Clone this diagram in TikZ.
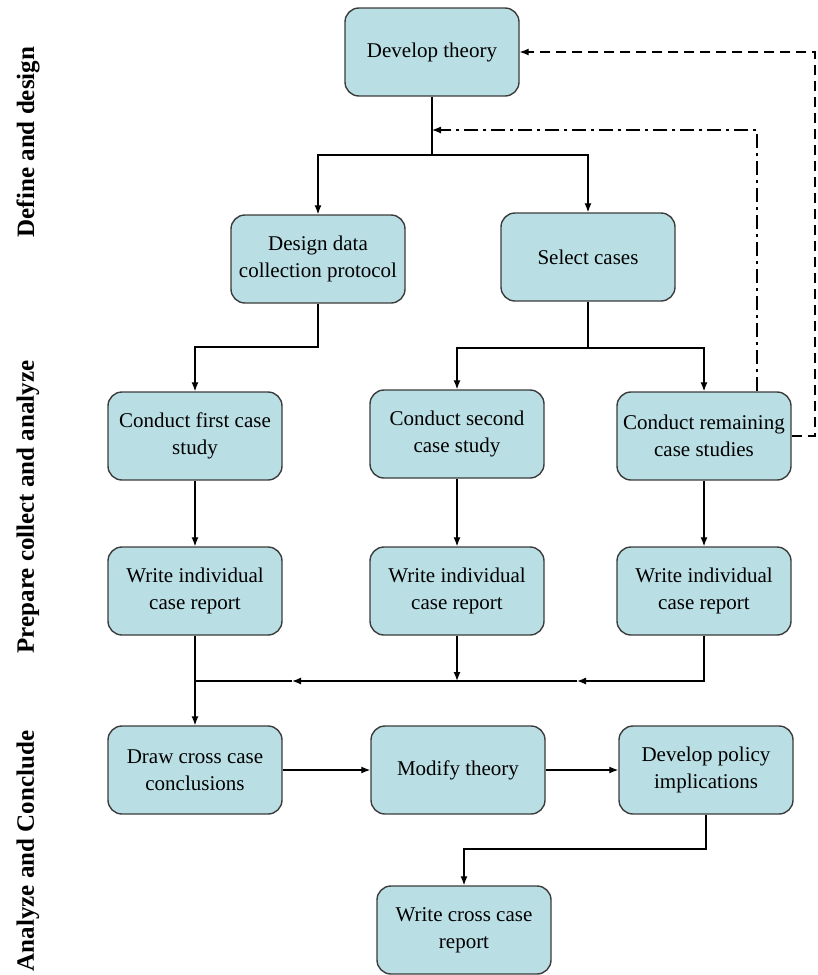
\documentclass[tikz,border=0pt]{standalone}
\usepackage{fontspec}
\setmainfont{Liberation Serif}
\usetikzlibrary{arrows.meta}
\definecolor{boxfill}{RGB}{185,222,228}
\definecolor{boxline}{RGB}{60,60,60}
\begin{document}
\begin{tikzpicture}[x=1pt,y=-1pt,
 box/.style={draw=boxline, line width=1.4pt, fill=boxfill, rounded corners=14pt,
   minimum width=174pt, minimum height=88pt, align=center,
   font=\fontsize{21}{27}\selectfont, inner sep=0pt},
 conn/.style={line width=1.3pt, draw=black},
 arr/.style={conn, -{Latex[length=9pt,width=7pt]}},
 dashdotline/.style={line width=1.2pt, dash pattern=on 14pt off 5pt on 3pt off 5pt},
 dashline/.style={line width=1.2pt, dash pattern=on 10pt off 6pt},
 side/.style={rotate=90, font=\fontsize{25}{30}\selectfont\bfseries, inner sep=0pt}]
\useasboundingbox (0,0) rectangle (817,975);

% side labels
\node[side] (l1) at (28,142) {Define and design};
\node[side] (l2) at (28,507) {Prepare collect and analyze};
\node[side] (l3) at (28,851) {Analyze and Conclude};

% boxes
\node[box] (dt) at (432,52) {Develop theory};
\node[box] (dd) at (318,259) {Design data\\collection protocol};
\node[box] (sc) at (588,257) {Select cases};
\node[box] (c1) at (195,436) {Conduct first case\\study};
\node[box] (c2) at (457,434) {Conduct second\\case study};
\node[box] (c3) at (704,436) {Conduct remaining\\case studies};
\node[box] (w1) at (195,591) {Write individual\\case report};
\node[box] (w2) at (457,591) {Write individual\\case report};
\node[box] (w3) at (704,591) {Write individual\\case report};
\node[box] (dc) at (195,770) {Draw cross case\\conclusions};
\node[box] (mt) at (458,770) {Modify theory};
\node[box] (dp) at (706,770) {Develop policy\\implications};
\node[box] (wc) at (464,930) {Write cross case\\report};

% junction coordinates
\coordinate (j1) at (432,155);
\coordinate (j2) at (432,130);
\coordinate (dd1) at (757,130);
\coordinate (rr) at (815,52);
\coordinate (j3) at (318,347);
\coordinate (j4) at (588,348);
\coordinate (j5) at (195,681);
\coordinate (a1) at (292,681);
\coordinate (a2) at (577,681);
\coordinate (j6) at (706,849);

% top split
\draw[conn] (dt.south) -- (j1);
\draw[arr] (j1) -| (dd.north);
\draw[arr] (j1) -| (sc.north);

% feedback lines
\draw[arr, dashdotline] (dd1 |- c3.north) -- (dd1) -- (j2);
\draw[arr, dashline] (c3.east) -- (c3.east -| rr) -- (rr) -- (dt.east);

% to conduct boxes
\draw[arr] (dd.south) -- (j3) -| (c1.north);
\draw[conn] (sc.south) -- (j4);
\draw[arr] (j4) -| (c2.north);
\draw[arr] (j4) -| (c3.north);

% conduct to write
\draw[arr] (c1.south) -- (w1.north);
\draw[arr] (c2.south) -- (w2.north);
\draw[arr] (c3.south) -- (w3.north);

% merge
\draw[arr] (w1.south) -- (dc.north);
\draw[arr] (w2.south) -- (w2.south |- j5);
\draw[arr] (w3.south) |- (a2);
\draw[arr] (a2) -- (a1);
\draw[conn] (a1) -- (j5);

% bottom row
\draw[arr] (dc.east) -- (mt.west);
\draw[arr] (mt.east) -- (dp.west);
\draw[arr] (dp.south) -- (j6) -| (wc.north);
\end{tikzpicture}
\end{document}
